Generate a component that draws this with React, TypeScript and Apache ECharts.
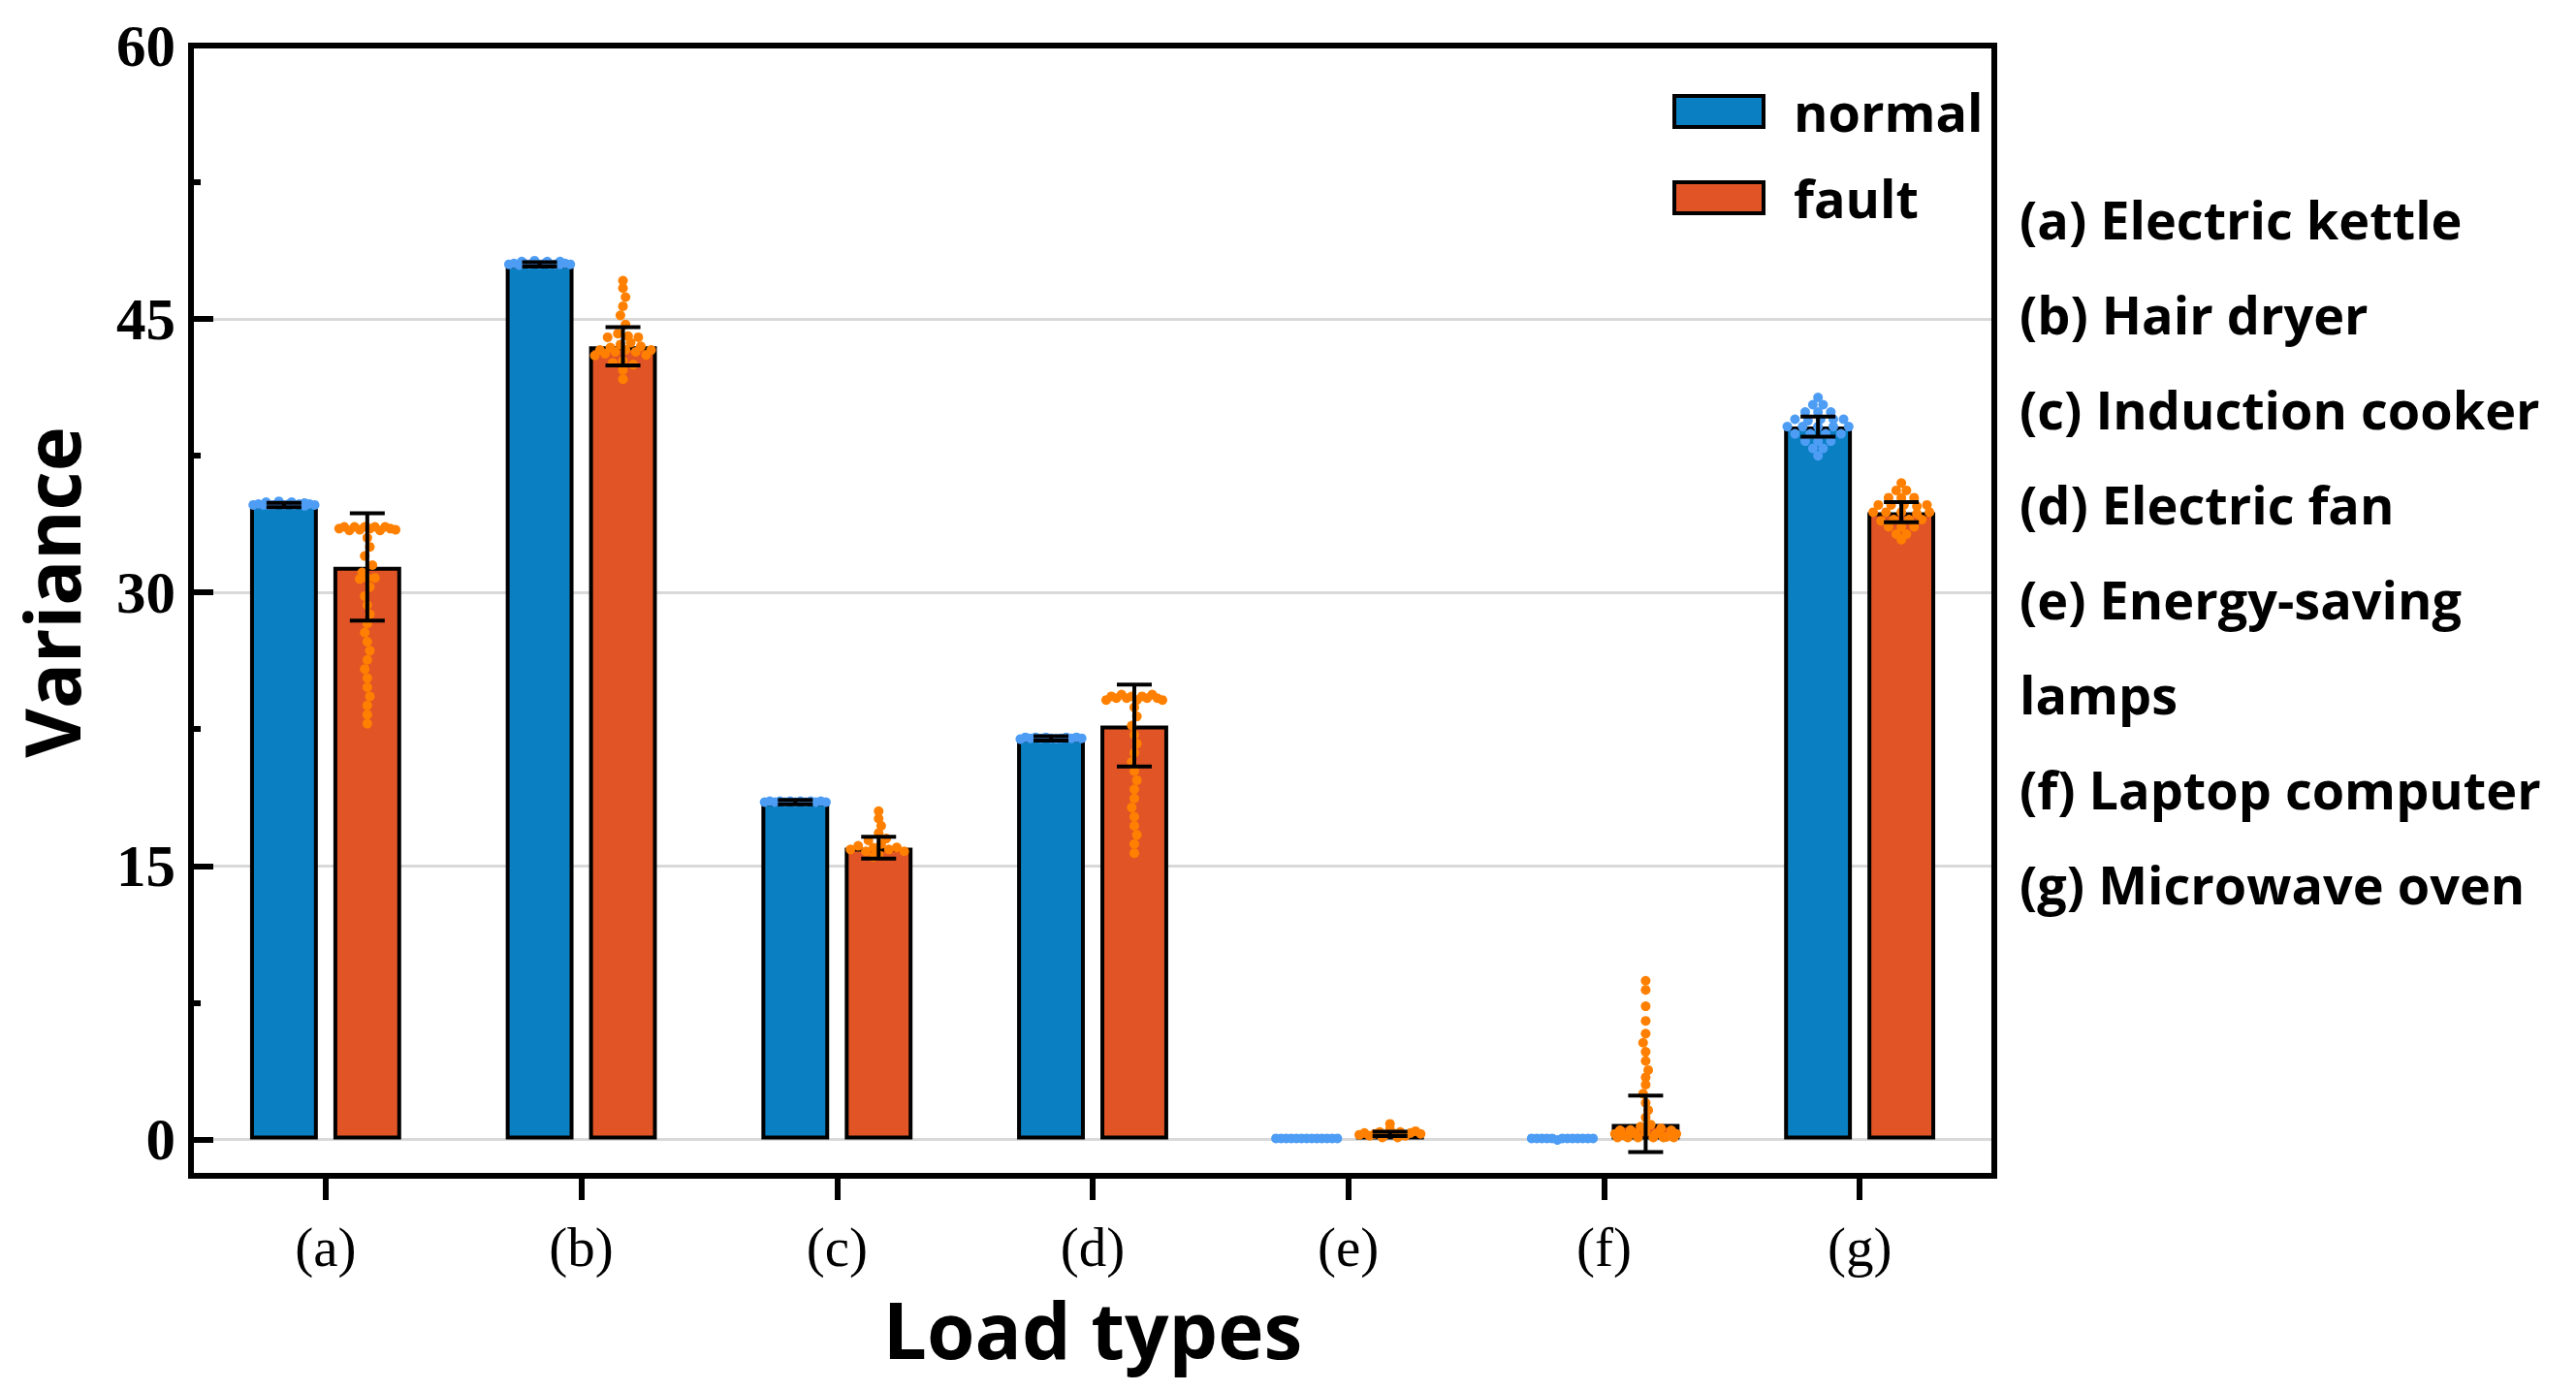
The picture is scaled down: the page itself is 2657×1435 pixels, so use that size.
import React, { useEffect, useRef } from 'react';
import * as echarts from 'echarts';

const categories = ['(a)', '(b)', '(c)', '(d)', '(e)', '(f)', '(g)'];
const loadNames = [
  'Electric kettle',
  'Hair dryer',
  'Induction cooker',
  'Electric fan',
  'Energy-saving\nlamps',
  'Laptop computer',
  'Microwave oven',
];
const seriesNames = ['normal', 'fault'];
const yTitle = 'Variance';
const xTitle = 'Load types';
const yMajorTicks = [0, 15, 30, 45];
const yLabelValues = [0, 15, 30, 45, 60];
const yMinorTicks = [7.5, 22.5, 37.5, 52.5];

const normalMean = [34.8, 48.0, 18.5, 22.0, 0.05, 0.05, 39.1];
const normalSD = [0.12, 0.12, 0.12, 0.12, 0, 0, 0.55];
const faultMean = [31.4, 43.5, 16.0, 22.7, 0.3, 0.85, 34.4];
const faultSD = [2.95, 1.05, 0.6, 2.25, 0.12, 1.55, 0.55];

// individual samples: [horizontal jitter (fraction of band), value]
const normalPoints: number[][][] = [
  [[-0.12, 34.8], [-0.1, 34.85], [-0.08, 34.8], [-0.06, 34.85], [-0.04, 34.8], [-0.02, 34.85], [0, 34.8], [0.02, 34.85], [0.04, 34.8], [0.06, 34.85], [0.08, 34.8], [0.1, 34.85], [0.12, 34.8],
   [-0.07, 34.95], [-0.02, 35.0], [0.03, 34.95], [0.08, 34.95]],
  [[-0.12, 48.0], [-0.1, 48.05], [-0.08, 48.0], [-0.06, 48.05], [-0.04, 48.0], [-0.02, 48.05], [0, 48.0], [0.02, 48.05], [0.04, 48.0], [0.06, 48.05], [0.08, 48.0], [0.1, 48.05], [0.12, 48.0],
   [-0.07, 48.15], [-0.02, 48.2], [0.03, 48.15], [0.08, 48.15]],
  [[-0.12, 18.5], [-0.1, 18.55], [-0.08, 18.5], [-0.06, 18.55], [-0.04, 18.5], [-0.02, 18.55], [0, 18.5], [0.02, 18.55], [0.04, 18.5], [0.06, 18.55], [0.08, 18.5], [0.1, 18.55], [0.12, 18.5]],
  [[-0.12, 22.0], [-0.1, 22.05], [-0.08, 22.0], [-0.06, 22.05], [-0.04, 22.0], [-0.02, 22.05], [0, 22.0], [0.02, 22.05], [0.04, 22.0], [0.06, 22.05], [0.08, 22.0], [0.1, 22.05], [0.12, 22.0]],
  [[-0.12, 0.05], [-0.1, 0.05], [-0.08, 0.05], [-0.06, 0.05], [-0.04, 0.05], [-0.02, 0.05], [0, 0.05], [0.02, 0.05], [0.04, 0.05], [0.06, 0.05], [0.08, 0.05], [0.1, 0.05], [0.12, 0.05]],
  [[-0.12, 0.05], [-0.1, 0.05], [-0.08, 0.05], [-0.06, 0.05], [-0.04, 0.05], [-0.02, 0.05], [0, 0.05], [0.02, 0.05], [0.04, 0.05], [0.06, 0.05], [0.08, 0.05], [0.1, 0.05], [0.12, 0.05]],
  [[0, 40.7], [-0.02, 40.3], [0.02, 40.3], [-0.05, 39.9], [0, 39.9], [0.05, 39.9], [-0.09, 39.5], [-0.04, 39.5], [0.01, 39.5], [0.06, 39.5], [0.1, 39.5],
   [-0.12, 39.1], [-0.06, 39.1], [0, 39.1], [0.06, 39.1], [0.12, 39.1], [-0.09, 38.7], [-0.03, 38.7], [0.03, 38.7], [0.09, 38.7],
   [-0.05, 38.3], [0, 38.3], [0.05, 38.3], [-0.02, 37.9], [0.02, 37.9], [0, 37.5]],
];
const faultPoints: number[][][] = [
  [[-0.11, 33.5], [-0.09, 33.6], [-0.07, 33.4], [-0.05, 33.6], [-0.03, 33.5], [-0.01, 33.6], [0.01, 33.5], [0.03, 33.6], [0.05, 33.4], [0.07, 33.6], [0.09, 33.5], [0.11, 33.5],
   [0, 33.0], [0.01, 32.5], [-0.01, 32.0], [0.02, 31.5], [-0.02, 31.1], [0.03, 30.8], [-0.03, 30.8], [0.0, 30.8], [0.01, 30.3], [-0.01, 29.8], [0.0, 29.3],
   [0.01, 28.8], [0, 28.3], [-0.01, 27.8], [0, 27.3], [0.01, 26.8], [0, 26.3], [-0.01, 25.8], [0, 25.3], [0, 24.8], [0.01, 24.3], [0, 23.8], [0, 23.3], [0, 22.8]],
  [[-0.11, 43.0], [-0.09, 43.3], [-0.07, 43.1], [-0.05, 43.5], [-0.03, 43.2], [-0.01, 43.6], [0.01, 43.3], [0.03, 43.7], [0.05, 43.2], [0.07, 43.5], [0.09, 43.1], [0.11, 43.3],
   [-0.06, 44.0], [-0.02, 44.2], [0.02, 44.1], [0.06, 44.0], [-0.04, 42.6], [0.0, 42.7], [0.04, 42.5], [0, 42.2], [0, 41.7],
   [0.01, 44.7], [-0.01, 45.2], [0.0, 45.7], [0.01, 46.2], [0, 46.7], [0, 47.1]],
  [[-0.11, 15.9], [-0.08, 16.1], [-0.05, 15.8], [-0.02, 16.0], [0.01, 16.2], [0.04, 15.9], [0.07, 16.1], [0.1, 15.8], [-0.04, 16.4], [0.03, 16.5],
   [0, 15.6], [-0.02, 15.5], [0, 16.8], [0.01, 17.2], [0, 17.6], [0, 18.0]],
  [[-0.11, 24.1], [-0.09, 24.3], [-0.07, 24.2], [-0.05, 24.4], [-0.03, 24.2], [-0.01, 24.3], [0.01, 24.1], [0.03, 24.3], [0.05, 24.2], [0.07, 24.4], [0.09, 24.2], [0.11, 24.1],
   [0, 23.7], [0.01, 23.2], [-0.01, 22.7], [0, 22.2], [0.01, 21.7], [0, 21.2], [-0.01, 20.7], [0, 20.2], [0.01, 19.7], [0, 19.2], [0, 18.7], [-0.01, 18.2],
   [0, 17.7], [0, 17.2], [0.01, 16.7], [0, 16.2], [0, 15.7]],
  [[-0.12, 0.25], [-0.1, 0.35], [-0.08, 0.2], [-0.06, 0.3], [-0.04, 0.4], [-0.02, 0.25], [0, 0.55], [0, 0.85], [0.02, 0.3], [0.04, 0.4], [0.06, 0.2],
   [0.08, 0.35], [0.1, 0.45], [0.12, 0.3], [-0.03, 0.1], [0.03, 0.1]],
  [[-0.12, 0.3], [-0.1, 0.5], [-0.08, 0.2], [-0.06, 0.6], [-0.04, 0.3], [-0.02, 0.7], [0, 0.4], [0.02, 0.8], [0.04, 0.3], [0.06, 0.6], [0.08, 0.2], [0.1, 0.5], [0.12, 0.3],
   [-0.11, 0.1], [-0.07, 0.1], [-0.03, 0.1], [0.03, 0.1], [0.07, 0.1], [0.11, 0.1],
   [0, 1.2], [0.01, 1.6], [0, 2.0], [-0.01, 2.5], [0, 3.0], [0, 3.4], [0.01, 3.8], [0, 4.3], [0, 4.8], [-0.01, 5.3], [0, 5.8], [0, 6.5], [0, 7.3], [0, 8.2], [0, 8.7]],
  [[0, 36.0], [-0.02, 35.6], [0.02, 35.6], [-0.05, 35.2], [0, 35.2], [0.05, 35.2], [-0.09, 34.8], [-0.04, 34.8], [0.01, 34.8], [0.06, 34.8], [0.1, 34.8],
   [-0.11, 34.4], [-0.06, 34.4], [0, 34.4], [0.06, 34.4], [0.11, 34.4], [-0.08, 34.0], [-0.03, 34.0], [0.03, 34.0], [0.08, 34.0],
   [-0.05, 33.6], [0, 33.6], [0.05, 33.6], [-0.02, 33.2], [0.02, 33.2], [0, 32.9]],
];

const NORMAL_COLOR = '#0A7FC2';
const FAULT_COLOR = '#E05426';
const NORMAL_PT = '#4E9DF5';
const FAULT_PT = '#FF8000';
const BAR_W = 0.265; // fraction of band
const BAR_GAP = 0.23; // fraction of bar width
const OFFSET = (BAR_W + BAR_W * BAR_GAP) / 2;
const SANS = '"Open Sans"';
const SERIF = '"Liberation Serif", "Times New Roman", serif';

function pointsSeries(name: string, pts: number[][][], offset: number, color: string) {
  const data: number[][] = [];
  pts.forEach((g, i) => g.forEach(([dx, v]) => data.push([i, v, dx])));
  return {
    type: 'custom',
    name,
    xAxisIndex: 0,
    yAxisIndex: 0,
    data,
    z: 3,
    silent: true,
    renderItem: (_p: any, api: any) => {
      const band = api.size([1, 0])[0];
      const c = api.coord([api.value(0), api.value(1)]);
      return {
        type: 'circle',
        shape: { cx: c[0] + (offset + api.value(2)) * band, cy: c[1], r: 5 },
        style: { fill: color },
      };
    },
  };
}

function errorSeries(name: string, mean: number[], sd: number[], offset: number) {
  return {
    type: 'custom',
    name,
    xAxisIndex: 0,
    yAxisIndex: 0,
    data: mean.map((m, i) => [i, m, sd[i]]),
    z: 4,
    silent: true,
    renderItem: (_p: any, api: any) => {
      const s = api.value(2);
      if (!(s > 0)) return null;
      const band = api.size([1, 0])[0];
      const i = api.value(0);
      const m = api.value(1);
      const top = api.coord([i, m + s]);
      const bot = api.coord([i, m - s]);
      const x = top[0] + offset * band;
      const hw = 18;
      const st = { stroke: '#000', lineWidth: 4 };
      return {
        type: 'group',
        children: [
          { type: 'line', shape: { x1: x, y1: top[1], x2: x, y2: bot[1] }, style: st },
          { type: 'line', shape: { x1: x - hw, y1: top[1], x2: x + hw, y2: top[1] }, style: st },
          { type: 'line', shape: { x1: x - hw, y1: bot[1], x2: x + hw, y2: bot[1] }, style: st },
        ],
      };
    },
  };
}

export default function App() {
  const ref = useRef<HTMLDivElement>(null);
  useEffect(() => {
    if (!ref.current) return;
    const chart = echarts.init(ref.current, undefined, { renderer: 'svg' });
    const frameLine = { show: true, onZero: false, lineStyle: { color: '#000', width: 6, cap: 'square' } };
    const hidden = { axisTick: { show: false }, axisLabel: { show: false }, splitLine: { show: false } };
    const option: any = {
      animation: false,
      backgroundColor: '#fff',
      title: {
        text: categories.map((c, i) => `${c} ${loadNames[i]}`).join('\n'),
        left: 2083,
        top: 177,
        padding: 0,
        textStyle: { fontFamily: SANS, fontWeight: 'bold', fontSize: 54, lineHeight: 98, color: '#000' },
      },
      graphic: [
        {
          type: 'text',
          x: 53,
          y: 611,
          rotation: Math.PI / 2,
          style: {
            text: yTitle,
            fontFamily: SANS,
            fontWeight: 'bold',
            fontSize: 78,
            fill: '#000',
            align: 'center',
            verticalAlign: 'middle',
          },
        },
      ],
      legend: {
        data: seriesNames,
        orient: 'vertical',
        left: 1725,
        top: 88,
        padding: 0,
        itemWidth: 92,
        itemHeight: 32,
        itemGap: 35,
        icon: 'rect',
        itemStyle: { borderColor: '#000', borderWidth: 4 },
        textStyle: { fontFamily: SANS, fontWeight: 'bold', fontSize: 54, color: '#000', padding: [0, 0, 0, 26] },
      },
      grid: [
        { left: 204, top: 47, right: 607, bottom: 222, containLabel: false },
        { left: 197, top: 47, right: 600, bottom: 222, containLabel: false },
      ],
      xAxis: [
        {
          type: 'category',
          gridIndex: 0,
          data: categories,
          position: 'bottom',
          axisLine: { show: false, onZero: false },
          axisTick: { show: true, alignWithLabel: true, length: 25, lineStyle: { color: '#000', width: 6 } },
          axisLabel: { fontFamily: SERIF, fontSize: 57, color: '#000', margin: 45 },
          splitLine: { show: false },
          name: xTitle,
          nameLocation: 'middle',
          nameGap: 117,
          nameTextStyle: { fontFamily: SANS, fontWeight: 'bold', fontSize: 80, color: '#000' },
        },
        { type: 'value', gridIndex: 1, min: 0, max: 1, position: 'bottom', axisLine: frameLine, ...hidden },
        { type: 'value', gridIndex: 1, min: 0, max: 1, position: 'top', axisLine: frameLine, ...hidden },
      ],
      yAxis: [
        { type: 'value', gridIndex: 0, min: -2, max: 60, show: false },
        {
          type: 'value',
          gridIndex: 1,
          min: -2,
          max: 60,
          position: 'left',
          axisLine: { show: false },
          axisTick: { show: true, inside: true, length: 23, customValues: yMajorTicks, lineStyle: { color: '#000', width: 6 } },
          axisLabel: { customValues: yLabelValues, fontFamily: SERIF, fontWeight: 'bold', fontSize: 61, color: '#000', margin: 16 },
          splitLine: { show: true, lineStyle: { color: '#d9d9d9', width: 3 } },
        },
        {
          type: 'value',
          gridIndex: 1,
          min: -2,
          max: 60,
          position: 'left',
          axisLine: frameLine,
          axisTick: { show: true, inside: true, length: 10, customValues: yMinorTicks, lineStyle: { color: '#000', width: 6 } },
          axisLabel: { show: false },
          splitLine: { show: false },
        },
        { type: 'value', gridIndex: 1, min: -2, max: 60, position: 'right', axisLine: frameLine, ...hidden },
      ],
      series: [
        {
          type: 'bar',
          name: seriesNames[0],
          xAxisIndex: 0,
          yAxisIndex: 0,
          data: normalMean,
          barWidth: `${BAR_W * 100}%`,
          barGap: `${BAR_GAP * 100}%`,
          itemStyle: { color: NORMAL_COLOR, borderColor: '#000', borderWidth: 4 },
          z: 2,
        },
        {
          type: 'bar',
          name: seriesNames[1],
          xAxisIndex: 0,
          yAxisIndex: 0,
          data: faultMean,
          barWidth: `${BAR_W * 100}%`,
          barGap: `${BAR_GAP * 100}%`,
          itemStyle: { color: FAULT_COLOR, borderColor: '#000', borderWidth: 4 },
          z: 2,
        },
        pointsSeries('normal samples', normalPoints, -OFFSET, NORMAL_PT),
        pointsSeries('fault samples', faultPoints, OFFSET, FAULT_PT),
        errorSeries('normal sd', normalMean, normalSD, -OFFSET),
        errorSeries('fault sd', faultMean, faultSD, OFFSET),
      ],
    };
    chart.setOption(option);
    return () => chart.dispose();
  }, []);
  return <div ref={ref} style={{ position: 'fixed', left: 0, top: 0, width: 2657, height: 1435 }} />;
}
